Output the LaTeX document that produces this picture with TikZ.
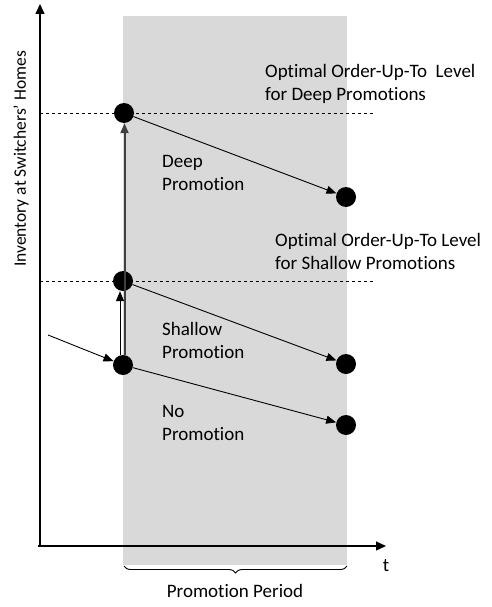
\documentclass[tikz,border=0pt]{standalone}
\usepackage{fontspec}
\setmainfont{Carlito}[Ligatures={NoCommon,NoRare}]
\usepackage{xcolor}
\usetikzlibrary{arrows.meta, positioning, decorations.pathreplacing}
\definecolor{promogray}{HTML}{D9D9D9}
\definecolor{jumpgray}{HTML}{404040}

\begin{document}
\begin{tikzpicture}[x=1pt, y=-1pt,
  dot/.style={circle, fill=black, inner sep=0pt, minimum size=20pt},
  lbl/.style={font=\fontsize{19}{23}\selectfont, align=left, inner sep=0pt},
  axis/.style={-{Triangle[length=10pt,width=9pt]}, line width=1.3pt},
  path/.style={-{Triangle[length=10pt,width=8pt]}, line width=0.9pt},
  jump/.style={-{Triangle[length=10pt,width=8pt]}, jumpgray, line width=2pt},
  level/.style={dashed, line width=0.9pt}
]
\useasboundingbox (0,0) rectangle (492,607);
\fill[promogray] (123,16) rectangle (347,565);

% axes
\coordinate (origin) at (40,546);
\coordinate (ytop) at (40,4);
\coordinate (xend) at (386,546);
\draw[axis] (origin) -- (ytop);
\draw[axis] ([xshift=-2pt]origin) -- (xend);
\node[lbl, rotate=90, font=\fontsize{17.5}{21}\selectfont] (ylabel) at (21,159) {Inventory at Switchers’ Homes};
\node[lbl] (tlabel) at (386,566) {t};

% order-up-to levels
\coordinate (deepl) at (40,113);
\coordinate (deepr) at (375,113);
\coordinate (shalll) at (40,281);
\coordinate (shallr) at (375,281);
\draw[level] (deepl) -- (deepr);
\draw[level] (shalll) -- (shallr);

% dots
\node[dot] (deep) at (124,113) {};
\node[dot] (shallow) at (123,281) {};
\node[dot] (base) at (123,365) {};
\node[dot] (deepend) at (346,197) {};
\node[dot] (shallowend) at (346,364) {};
\node[dot] (noend) at (346,425) {};

% connectors
\coordinate (start) at (48,335);
\draw[path] (start) -- (base);
\draw[jump] ([xshift=1.5pt]base.north) -- ([xshift=0.5pt]deep.south);
\draw[path] ([xshift=-3pt]base.north) -- ([xshift=-3pt]shallow.south);
\draw[path] (deep) -- (deepend);
\draw[path] (shallow) -- (shallowend);
\draw[path] (base) -- (noend);

% labels
\node[lbl, anchor=west] (deeptxt) at (162,173) {Deep\\Promotion};
\node[lbl, anchor=west] (shallowtxt) at (162,340) {Shallow\\Promotion};
\node[lbl, anchor=west] (notxt) at (162,423) {No\\Promotion};
\node[lbl, anchor=west] (deeplevel) at (265,84) {Optimal Order-Up-To~ Level\\for Deep Promotions};
\node[lbl, anchor=west] (shalllevel) at (275,251) {Optimal Order-Up-To Level\\for Shallow Promotions};

% promotion period
\coordinate (bl) at (124,566);
\coordinate (br) at (347,566);
\draw[decorate, decoration={brace, mirror, amplitude=7pt}, line width=0.9pt] (bl) -- (br);
\node[lbl] (period) at (235,591) {Promotion Period};
\end{tikzpicture}
\end{document}
